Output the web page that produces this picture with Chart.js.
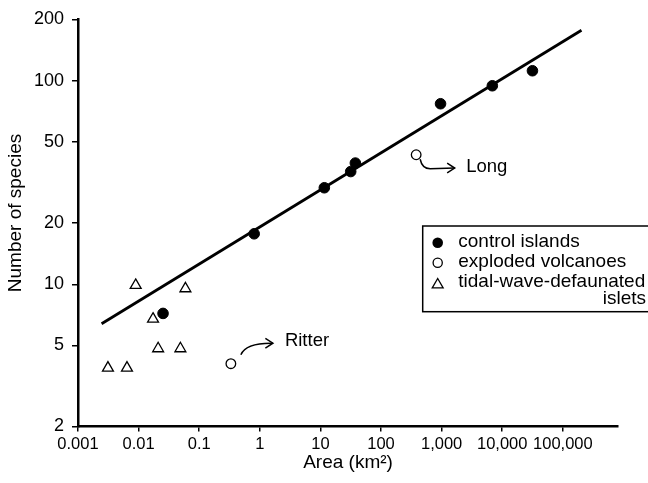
<!DOCTYPE html>
<html><head><meta charset="utf-8">
<script src="https://cdn.jsdelivr.net/npm/chart.js@4.4.1/dist/chart.umd.min.js"></script>
<style>html,body{margin:0;padding:0;background:#fff;overflow:hidden}#wrap{width:648px;height:483px;position:relative}</style>
</head><body><div id="wrap"><canvas id="c"></canvas></div>
<script>
// ---- data ----
const controlArea    = [0.0253, 0.807, 11.6, 31.6, 37.7, 959, 6860, 31500];
const controlSpecies = [7.19, 17.7, 29.8, 35.8, 39.4, 77.1, 94.5, 112];
const volcanoNames   = ['Ritter', 'Long'];
const volcanoArea    = [0.333, 380];
const volcanoSpecies = [4.07, 43.3];
const isletArea      = [0.00895, 0.0592, 0.0173, 0.0210, 0.0489, 0.00312, 0.00643];
const isletSpecies   = [9.89, 9.52, 6.75, 4.83, 4.83, 3.88, 3.88];
const fitArea        = [0.00245, 203000];
const fitSpecies     = [6.4, 177];
const xTickValues = [0.001, 0.01, 0.1, 1, 10, 100, 1000, 10000, 100000];
const xTickLabels = ['0.001', '0.01', '0.1', '1', '10', '100', '1,000', '10,000', '100,000'];
const yTickValues = [2, 5, 10, 20, 50, 100, 200];
const yTickLabels = ['2', '5', '10', '20', '50', '100', '200'];
const legendLabels = ['control islands', 'exploded volcanoes', 'tidal-wave-defaunated', 'islets'];
const xTitle = 'Area (km\u00B2)';
const yTitle = 'Number of species';

const FONT = '"Liberation Sans", Arial, Helvetica, sans-serif';

function pts(xs, ys) { return xs.map((v, i) => ({x: v, y: ys[i]})); }

function triangle(ctx, x, y, r) {
  ctx.beginPath();
  ctx.moveTo(x, y - r);
  ctx.lineTo(x + r * Math.sin(2 * Math.PI / 3), y - r * Math.cos(2 * Math.PI / 3));
  ctx.lineTo(x + r * Math.sin(4 * Math.PI / 3), y - r * Math.cos(4 * Math.PI / 3));
  ctx.closePath();
}

const annotationLayout = {
  Ritter: {start: [10, -9], ctrl: [15, -21], end: null, tip: [42, -20.5], text: [54, -23]},
  Long:   {start: [4, 4.5], ctrl: [6, 14], end: [14, 14], tip: [38.5, 13.3], text: [50, 12.5]}
};

const overlay = {
  id: 'overlay',
  afterDraw(chart) {
    const {ctx, chartArea} = chart;
    const xs = chart.scales.x, ys = chart.scales.y;
    ctx.save();
    ctx.fillStyle = '#000';
    ctx.strokeStyle = '#000';
    // axis titles
    ctx.font = '19px ' + FONT;
    ctx.textAlign = 'center';
    ctx.textBaseline = 'middle';
    ctx.fillText(xTitle, (chartArea.left + chartArea.right) / 2, 463);
    ctx.save();
    ctx.translate(15.5, 213);
    ctx.rotate(-Math.PI / 2);
    ctx.fillText(yTitle, 0, 0);
    ctx.restore();

    // annotations for the exploded volcanoes
    ctx.lineWidth = 1.5;
    ctx.font = '18.5px ' + FONT;
    ctx.textAlign = 'left';
    volcanoNames.forEach((name, i) => {
      const a = annotationLayout[name];
      const px = xs.getPixelForValue(volcanoArea[i]);
      const py = ys.getPixelForValue(volcanoSpecies[i]);
      ctx.beginPath();
      ctx.moveTo(px + a.start[0], py + a.start[1]);
      if (a.end) {
        ctx.quadraticCurveTo(px + a.ctrl[0], py + a.ctrl[1], px + a.end[0], py + a.end[1]);
        ctx.lineTo(px + a.tip[0], py + a.tip[1]);
      } else {
        ctx.quadraticCurveTo(px + a.ctrl[0], py + a.ctrl[1], px + a.tip[0], py + a.tip[1]);
      }
      ctx.stroke();
      const tx = px + a.tip[0], ty = py + a.tip[1];
      ctx.beginPath();
      ctx.moveTo(tx - 7.5, ty - 4.8);
      ctx.lineTo(tx, ty);
      ctx.lineTo(tx - 7.5, ty + 4.8);
      ctx.stroke();
      ctx.fillText(name, px + a.text[0], py + a.text[1]);
    });

    // legend box
    ctx.lineWidth = 1.5;
    ctx.strokeRect(422.7, 226, 240, 85.7);
    ctx.font = '19px ' + FONT;
    ctx.textAlign = 'left';
    ctx.beginPath(); ctx.arc(437.7, 242.7, 5.3, 0, 2 * Math.PI); ctx.fill();
    ctx.fillText(legendLabels[0], 458.3, 242);
    ctx.lineWidth = 1.3;
    ctx.beginPath(); ctx.arc(437.7, 262.7, 4.6, 0, 2 * Math.PI); ctx.stroke();
    ctx.fillText(legendLabels[1], 458.3, 262);
    triangle(ctx, 437.7, 284.8, 6.3); ctx.stroke();
    ctx.fillText(legendLabels[2], 458.3, 282);
    ctx.textAlign = 'right';
    ctx.fillText(legendLabels[3], 646, 299);
    ctx.restore();
  }
};

new Chart(document.getElementById('c'), {
  type: 'scatter',
  data: {
    datasets: [
      {label: 'fit', data: pts(fitArea, fitSpecies), showLine: true, borderColor: '#000',
       borderWidth: 2.8, pointRadius: 0, fill: false},
      {label: legendLabels[0], data: pts(controlArea, controlSpecies), pointStyle: 'circle',
       pointRadius: 5.3, backgroundColor: '#000', borderColor: '#000', borderWidth: 1},
      {label: legendLabels[1], data: pts(volcanoArea, volcanoSpecies), pointStyle: 'circle',
       pointRadius: 4.8, backgroundColor: '#fff', borderColor: '#000', borderWidth: 1.3},
      {label: legendLabels[2] + ' ' + legendLabels[3], data: pts(isletArea, isletSpecies), pointStyle: 'triangle',
       pointRadius: 6.3, backgroundColor: '#fff', borderColor: '#000', borderWidth: 1.3}
    ]
  },
  options: {
    responsive: true,
    maintainAspectRatio: false,
    animation: false,
    layout: {padding: {top: 19.5, right: 30, bottom: 0, left: 0}},
    plugins: {legend: {display: false}, tooltip: {enabled: false}},
    scales: {
      x: {
        type: 'logarithmic',
        min: 0.001,
        max: 812830,
        afterBuildTicks: s => { s.ticks = xTickValues.map(v => ({value: v})); },
        afterFit: s => { s.height = 56.5; },
        border: {display: true, color: '#000', width: 2.5},
        grid: {display: true, drawOnChartArea: false, drawTicks: true, tickLength: 5, color: '#000', lineWidth: 1.5},
        ticks: {
          autoSkip: false, maxRotation: 0, padding: 3, color: '#000',
          font: {family: FONT, size: 16.5},
          callback: (v, i) => xTickLabels[i]
        }
      },
      y: {
        type: 'logarithmic',
        min: 2,
        max: 200,
        afterBuildTicks: s => { s.ticks = yTickValues.map(v => ({value: v})); },
        afterFit: s => { s.width = 78; },
        border: {display: true, color: '#000', width: 2.5},
        grid: {display: true, drawOnChartArea: false, drawTicks: true, tickLength: 6, color: '#000', lineWidth: 1.5},
        ticks: {
          autoSkip: false, padding: 8, color: '#000',
          font: {family: FONT, size: 18},
          callback: (v, i) => yTickLabels[i]
        }
      }
    }
  },
  plugins: [overlay]
});
</script>
</body></html>
